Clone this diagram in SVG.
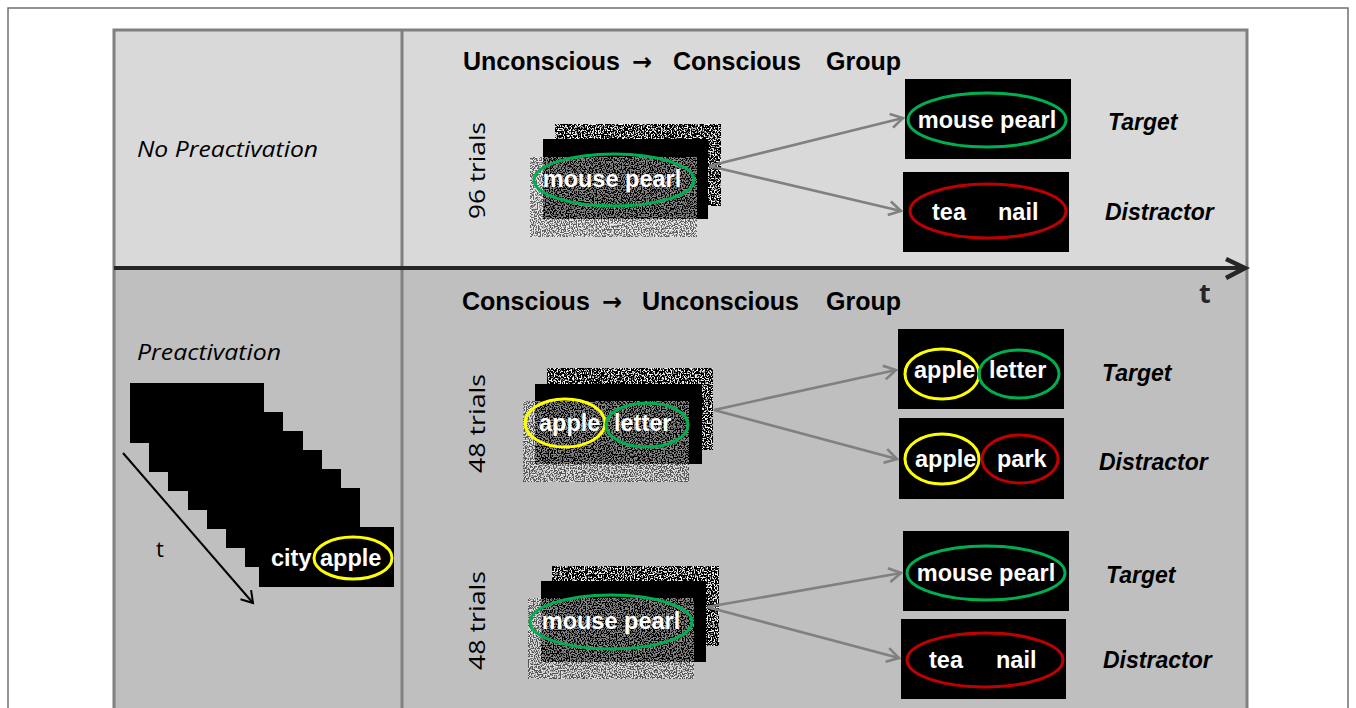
<svg xmlns="http://www.w3.org/2000/svg" width="1356" height="708" viewBox="0 0 1356 708">
<defs>
<filter id="noise" x="0" y="0" width="1" height="1" filterUnits="objectBoundingBox">
<feTurbulence type="fractalNoise" baseFrequency="0.7" numOctaves="1" seed="4"/>
<feColorMatrix type="matrix" values="9 0 0 0 -4.6  9 0 0 0 -4.6  9 0 0 0 -4.6  0 0 0 0 1"/>
</filter>
<filter id="noise2" x="0" y="0" width="1" height="1" filterUnits="objectBoundingBox">
<feTurbulence type="fractalNoise" baseFrequency="0.75" numOctaves="1" seed="9"/>
<feColorMatrix type="matrix" values="9 0 0 0 -4.2  9 0 0 0 -4.2  9 0 0 0 -4.2  0 0 0 0 1"/>
</filter>
<marker id="ah" markerUnits="userSpaceOnUse" markerWidth="20" markerHeight="20" viewBox="0 0 20 20" refX="17" refY="10" orient="auto">
<path d="M5,3 L17,10 L5,17" fill="none" stroke="#808080" stroke-width="2.6"/>
</marker>
<marker id="ahk" markerUnits="userSpaceOnUse" markerWidth="20" markerHeight="20" viewBox="0 0 20 20" refX="17" refY="10" orient="auto">
<path d="M6,3 L17,10 L6,17" fill="none" stroke="#000" stroke-width="2"/>
</marker>
<style>
.w{font-family:"Liberation Sans",Arial,sans-serif;font-weight:bold;font-size:23.5px;fill:#fff}
.hd{font-family:"Liberation Sans",Arial,sans-serif;font-weight:bold;font-size:25px;fill:#000}
.arr{font-family:"DejaVu Sans",sans-serif;font-weight:bold;font-size:24px}
.lab{font-family:"Liberation Sans",Arial,sans-serif;font-weight:bold;font-style:italic;font-size:23px;fill:#000}
.cal{font-family:"Open Sans","Noto Sans",sans-serif;font-size:22px;fill:#000}
.nb{fill:#000}
.nz{filter:url(#noise)}
.nz2{filter:url(#noise2);opacity:0.55}
.g{fill:none;stroke:#00b050;stroke-width:3}
.r{fill:none;stroke:#c00000;stroke-width:3}
.y{fill:none;stroke:#ffff00;stroke-width:3}
.con{stroke:#808080;stroke-width:2.6;fill:none;marker-end:url(#ah)}
</style>
</defs>

<rect x="8" y="8" width="1340" height="720" fill="#fff" stroke="#707070" stroke-width="1.5"/>

<g id="panel">
<rect x="114" y="30" width="1133" height="238" fill="#d9d9d9"/>
<rect x="114" y="268" width="1133" height="460" fill="#bfbfbf"/>
<rect x="114" y="30" width="1133" height="700" fill="none" stroke="#808080" stroke-width="3"/>
<line x1="402" y1="30" x2="402" y2="708" stroke="#808080" stroke-width="3"/>
</g>

<g id="time-axis">
<line x1="114" y1="268" x2="1244" y2="268" stroke="#262626" stroke-width="4"/>
<polyline points="1226,259 1245,268 1226,278" fill="none" stroke="#262626" stroke-width="4.5"/>
<text x="1199" y="303" style="font-family:'Open Sans','Noto Sans',sans-serif;font-weight:bold;font-size:27px;fill:#262626">t</text>
</g>

<g id="labels">
<text x="137" y="157" class="cal" font-style="italic" textLength="181" lengthAdjust="spacingAndGlyphs">No Preactivation</text>
<text x="137" y="360" class="cal" font-style="italic" textLength="144" lengthAdjust="spacingAndGlyphs">Preactivation</text>
<text class="hd" y="70"><tspan x="463">Unconscious</tspan><tspan x="632" class="arr">→</tspan><tspan x="673">Conscious</tspan><tspan x="826">Group</tspan></text>
<text class="hd" y="310"><tspan x="462">Conscious</tspan><tspan x="602" class="arr">→</tspan><tspan x="642">Unconscious</tspan><tspan x="826">Group</tspan></text>
<text class="cal" transform="translate(485,219) rotate(-90)" font-size="25" textLength="97" lengthAdjust="spacingAndGlyphs">96 trials</text>
<text class="cal" transform="translate(485,473) rotate(-90)" font-size="25" textLength="99" lengthAdjust="spacingAndGlyphs">48 trials</text>
<text class="cal" transform="translate(485,670) rotate(-90)" font-size="25" textLength="99" lengthAdjust="spacingAndGlyphs">48 trials</text>
</g>

<g id="preactivation-stack">
<rect class="nb" x="130" y="383" width="134" height="60"/>
<rect class="nb" x="149" y="412" width="134" height="60"/>
<rect class="nb" x="168" y="431" width="135" height="60"/>
<rect class="nb" x="188" y="450" width="134" height="60"/>
<rect class="nb" x="207" y="469" width="134" height="60"/>
<rect class="nb" x="226" y="488" width="134" height="60"/>
<rect class="nb" x="245" y="507" width="115" height="60"/>
<rect class="nb" x="259" y="527" width="135" height="60"/>
<text class="w" x="271" y="566">city</text>
<ellipse class="y" cx="353" cy="558" rx="39" ry="21"/>
<text class="w" x="320" y="566">apple</text>
<line x1="123" y1="453" x2="253" y2="603" stroke="#000" stroke-width="2" marker-end="url(#ahk)"/>
<text x="156" y="557" style="font-family:'Open Sans','Noto Sans',sans-serif;font-size:22px;fill:#000">t</text>
</g>

<g id="stim-uc">
<rect class="nz" x="555" y="124" width="166" height="82"/>
<rect class="nb" x="543" y="139" width="165" height="80"/>
<rect class="nz2" x="530" y="157" width="167" height="80"/>
<ellipse class="g" cx="614" cy="180" rx="80" ry="26"/>
<text class="w" x="612" y="187" text-anchor="middle">mouse pearl</text>
</g>

<g id="target-uc">
<rect class="nb" x="905" y="79" width="166" height="80"/>
<ellipse class="g" cx="987" cy="120" rx="79" ry="27"/>
<text class="w" x="987" y="128" text-anchor="middle">mouse pearl</text>
<text class="lab" x="1108" y="130">Target</text>
</g>

<g id="distractor-uc">
<rect class="nb" x="903" y="172" width="166" height="80"/>
<ellipse class="r" cx="988" cy="211" rx="78" ry="27"/>
<text class="w" x="932" y="220">tea</text>
<text class="w" x="998" y="220">nail</text>
<text class="lab" x="1105" y="220">Distractor</text>
</g>

<g id="stim-c1">
<rect class="nz" x="547" y="368" width="166" height="82"/>
<rect class="nb" x="535" y="384" width="167" height="80"/>
<rect class="nz2" x="523" y="401" width="166" height="81"/>
<ellipse class="y" cx="565" cy="423" rx="40" ry="24"/>
<ellipse class="g" cx="647" cy="425" rx="41" ry="22"/>
<text class="w" x="539" y="431">apple</text>
<text class="w" x="614" y="431">letter</text>
</g>

<g id="target-c1">
<rect class="nb" x="898" y="329" width="166" height="80"/>
<ellipse class="y" cx="942" cy="374" rx="37" ry="25"/>
<ellipse class="g" cx="1019" cy="374" rx="40" ry="24"/>
<text class="w" x="914" y="378">apple</text>
<text class="w" x="989" y="378">letter</text>
<text class="lab" x="1102" y="381">Target</text>
</g>

<g id="distractor-c1">
<rect class="nb" x="899" y="418" width="165" height="81"/>
<ellipse class="y" cx="942" cy="459" rx="37" ry="25"/>
<ellipse class="r" cx="1020" cy="459" rx="38" ry="24"/>
<text class="w" x="915" y="467">apple</text>
<text class="w" x="997" y="467">park</text>
<text class="lab" x="1099" y="470">Distractor</text>
</g>

<g id="stim-c2">
<rect class="nz" x="552" y="566" width="167" height="80"/>
<rect class="nb" x="541" y="581" width="165" height="81"/>
<rect class="nz2" x="528" y="598" width="166" height="81"/>
<ellipse class="g" cx="611" cy="622" rx="81" ry="27"/>
<text class="w" x="611" y="629" text-anchor="middle">mouse pearl</text>
</g>

<g id="target-c2">
<rect class="nb" x="903" y="531" width="166" height="80"/>
<ellipse class="g" cx="986" cy="573" rx="79" ry="27"/>
<text class="w" x="986" y="581" text-anchor="middle">mouse pearl</text>
<text class="lab" x="1106" y="583">Target</text>
</g>

<g id="distractor-c2">
<rect class="nb" x="901" y="619" width="165" height="80"/>
<ellipse class="r" cx="985" cy="660" rx="78" ry="27"/>
<text class="w" x="929" y="668">tea</text>
<text class="w" x="996" y="668">nail</text>
<text class="lab" x="1103" y="668">Distractor</text>
</g>

<g id="connectors">
<line class="con" x1="709" y1="166" x2="903" y2="118"/>
<line class="con" x1="709" y1="166" x2="901" y2="211"/>
<line class="con" x1="714" y1="410" x2="896" y2="370"/>
<line class="con" x1="714" y1="410" x2="897" y2="459"/>
<line class="con" x1="707" y1="607" x2="901" y2="573"/>
<line class="con" x1="707" y1="607" x2="899" y2="658"/>
</g>
</svg>
